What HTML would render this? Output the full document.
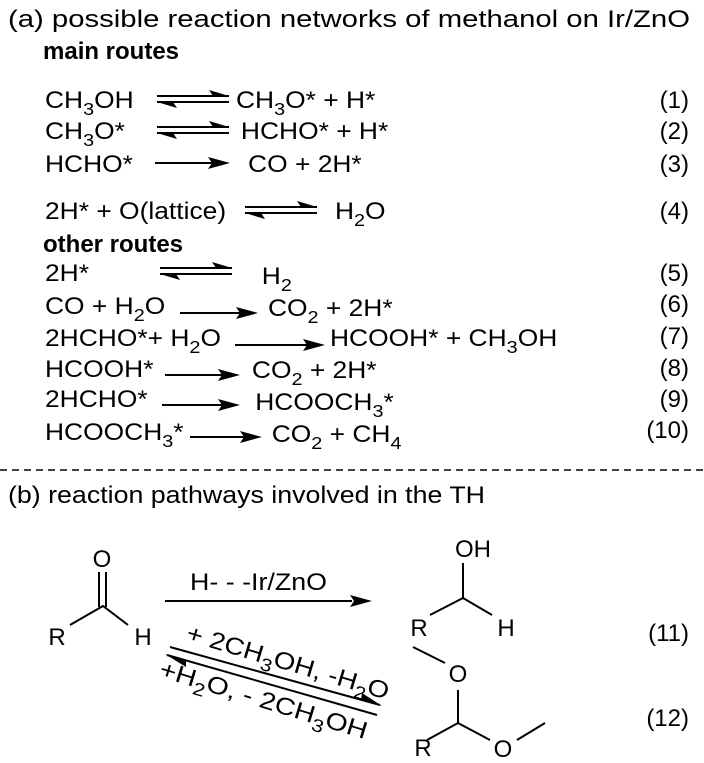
<!DOCTYPE html>
<html><head><meta charset="utf-8"><style>
html,body{margin:0;padding:0;background:#fff;}
svg{display:block;}
text{font-family:"Liberation Sans",Arial,sans-serif;font-size:24px;fill:#000;}
.b{font-weight:bold;}
.s{font-size:18px;}
</style></head><body>
<svg width="704" height="763" viewBox="0 0 704 763" xmlns="http://www.w3.org/2000/svg">
<defs>
<g id="eq"><line x1="0" y1="-3" x2="72" y2="-3" stroke="#000" stroke-width="2"/><polygon points="72,-3 52,-9 56,-3" fill="#000"/>
<line x1="0" y1="3" x2="72" y2="3" stroke="#000" stroke-width="2"/><polygon points="0,3 20,9 16,3" fill="#000"/></g>
</defs>
<text x="8" y="27" textLength="682" lengthAdjust="spacingAndGlyphs">(a) possible reaction networks of methanol on Ir/ZnO</text>
<text x="43" y="59" class="b">main routes</text>
<text x="43" y="252" class="b">other routes</text>
<text x="8" y="503" textLength="477" lengthAdjust="spacingAndGlyphs">(b) reaction pathways involved in the TH</text>

<g transform="scale(1.1,1)">
<text x="40.9" y="108">CH<tspan class="s" dy="7">3</tspan><tspan dy="-7">OH</tspan></text>
<text x="214.5" y="108">CH<tspan class="s" dy="7">3</tspan><tspan dy="-7">O* + H*</tspan></text>
<text x="40.9" y="139">CH<tspan class="s" dy="7">3</tspan><tspan dy="-7">O*</tspan></text>
<text x="219" y="139">HCHO* + H*</text>
<text x="40.9" y="172">HCHO*</text>
<text x="225.5" y="172">CO + 2H*</text>
<text x="40.9" y="219">2H* + O(lattice)</text>
<text x="304.5" y="219">H<tspan class="s" dy="7">2</tspan><tspan dy="-7">O</tspan></text>
<text x="40.9" y="281">2H*</text>
<text x="238" y="284">H<tspan class="s" dy="7">2</tspan></text>
<text x="40.9" y="314">CO + H<tspan class="s" dy="7">2</tspan><tspan dy="-7">O</tspan></text>
<text x="243.6" y="316">CO<tspan class="s" dy="7">2</tspan><tspan dy="-7"> + 2H*</tspan></text>
<text x="40.9" y="346">2HCHO*+ H<tspan class="s" dy="7">2</tspan><tspan dy="-7">O</tspan></text>
<text x="300" y="346">HCOOH* + CH<tspan class="s" dy="7">3</tspan><tspan dy="-7">OH</tspan></text>
<text x="40.9" y="377">HCOOH*</text>
<text x="229" y="378">CO<tspan class="s" dy="7">2</tspan><tspan dy="-7"> + 2H*</tspan></text>
<text x="40.9" y="407">2HCHO*</text>
<text x="232" y="410">HCOOCH<tspan class="s" dy="7">3</tspan><tspan dy="-7">*</tspan></text>
<text x="40.9" y="440">HCOOCH<tspan class="s" dy="7">3</tspan><tspan dy="-7">*</tspan></text>
<text x="247" y="442">CO<tspan class="s" dy="7">2</tspan><tspan dy="-7"> + CH</tspan><tspan class="s" dy="7">4</tspan></text>
</g>
<g text-anchor="end">
<text x="689" y="108">(1)</text>
<text x="689" y="139">(2)</text>
<text x="689" y="172">(3)</text>
<text x="689" y="219">(4)</text>
<text x="689" y="281">(5)</text>
<text x="689" y="312">(6)</text>
<text x="689" y="344">(7)</text>
<text x="689" y="376">(8)</text>
<text x="689" y="407">(9)</text>
<text x="689" y="438">(10)</text>
<text x="689" y="641">(11)</text>
<text x="689" y="726">(12)</text>
</g>
<g text-anchor="middle">
<text x="102" y="567">O</text>
<text x="57" y="645">R</text>
<text x="143" y="645">H</text>
<text x="473" y="557">OH</text>
<text x="419" y="636">R</text>
<text x="506" y="636">H</text>
<text x="458" y="682">O</text>
<text x="423" y="756">R</text>
<text x="503" y="757">O</text>
</g>

<use href="#eq" x="157" y="99"/>
<use href="#eq" x="157" y="130"/>
<use href="#eq" x="245" y="210"/>
<use href="#eq" x="160" y="271"/>
<g stroke="#000" stroke-width="2">
<line x1="155" y1="163" x2="226" y2="163"/>
<line x1="180" y1="313" x2="254" y2="313"/>
<line x1="235" y1="345" x2="321" y2="345"/>
<line x1="165" y1="375" x2="236" y2="375"/>
<line x1="162" y1="405" x2="236" y2="405"/>
<line x1="190" y1="437" x2="258" y2="437"/>
</g>
<g fill="#000">
<polygon points="230,163 208,157 212,163 208,169"/>
<polygon points="258,313 236,307 240,313 236,319"/>
<polygon points="325,345 303,339 307,345 303,351"/>
<polygon points="240,375 218,369 222,375 218,381"/>
<polygon points="240,405 218,399 222,405 218,411"/>
<polygon points="262,437 240,431 244,437 240,443"/>
</g>
<line x1="0" y1="470" x2="704" y2="470" stroke="#000" stroke-width="1.5" stroke-dasharray="7,5"/>

<g stroke="#000" stroke-width="2" fill="none">
<line x1="99" y1="572" x2="99" y2="607"/><line x1="106" y1="572" x2="106" y2="607"/>
<polyline points="70,625 103,606 128,625"/>
<line x1="165" y1="601" x2="352" y2="601"/>
<line x1="463" y1="563" x2="463" y2="598"/>
<polyline points="430,615 463,598 492,615"/>
<line x1="170" y1="647" x2="380" y2="705"/>
<line x1="167" y1="655" x2="377" y2="715"/>
<line x1="413" y1="647" x2="445" y2="663"/>
<line x1="458" y1="690" x2="458" y2="723"/>
<polyline points="427,740 458,723 490,740"/>
<line x1="517" y1="740" x2="545" y2="723"/>
</g>
<polygon points="372,601 350,595 354,601 350,607" fill="#000"/>
<polygon points="382,706 362,693 361,700" fill="#000"/>
<polygon points="165,654 186,667 186,660" fill="#000"/>
<text x="190" y="590" textLength="137" lengthAdjust="spacingAndGlyphs">H- - -Ir/ZnO</text>
<text transform="translate(185,640) rotate(16.5)" textLength="210" lengthAdjust="spacingAndGlyphs">+ 2CH<tspan class="s" dy="7">3</tspan><tspan dy="-7">OH, -H</tspan><tspan class="s" dy="7">2</tspan><tspan dy="-7">O</tspan></text>
<text transform="translate(158,676) rotate(17)" textLength="216" lengthAdjust="spacingAndGlyphs">+H<tspan class="s" dy="7">2</tspan><tspan dy="-7">O, - 2CH</tspan><tspan class="s" dy="7">3</tspan><tspan dy="-7">OH</tspan></text>
</svg>
</body></html>
